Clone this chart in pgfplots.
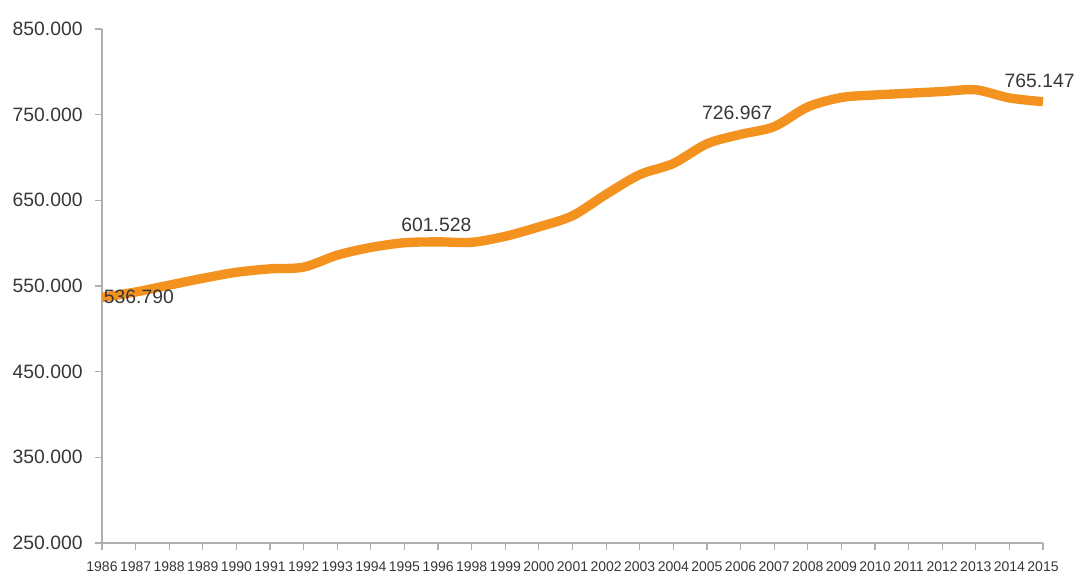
\documentclass[border=0pt]{standalone}
\usepackage{pgfplots}
\pgfplotsset{compat=1.18}
\usepackage{fontspec}
\setmainfont{Liberation Sans}
\definecolor{lineor}{RGB}{243,146,30}
\definecolor{axgray}{RGB}{175,175,175}
\definecolor{txt}{RGB}{55,55,55}
\pgfplotstableread{
x y
0 536.790
1 543
2 551
3 559
4 566
5 570
6 572
7 586
8 595
9 600.5
10 601.528
11 601
12 608
13 619
14 632
15 657
16 680
17 693
18 716
19 726.967
20 736
21 759
22 770
23 773
24 775
25 777
26 779
27 769.5
28 765.147
}\datatable
\begin{document}
\begin{tikzpicture}
\begin{axis}[name=ax, scale only axis, width=705.75pt, height=385.5pt,
 xmin=0, xmax=28, ymin=250, ymax=850,
 axis lines=left, axis line style={axgray, line width=0.9pt, -},
 xtick={0,...,28},
 xticklabels={1986,1987,1988,1989,1990,1991,1992,1993,1994,1995,1996,1998,1999,2000,2001,2002,2003,2004,2005,2006,2007,2008,2009,2010,2011,2012,2013,2014,2015},
 ytick={250,350,...,850},
 yticklabels={250.000,350.000,450.000,550.000,650.000,750.000,850.000},
 tick style={axgray, line width=0.9pt}, major tick length=5pt, tick align=outside,
 yticklabel style={font=\fontsize{14.5}{15}\selectfont, text=txt, xshift=-6pt},
 xticklabel style={font=\fontsize{10.5}{11}\selectfont, text=txt, yshift=-9pt, inner sep=0pt},
 clip=false]
\addplot[lineor, line width=7pt, smooth, tension=0.5] table[x=x,y=y] {\datatable};
\node[anchor=west, text=txt, font=\fontsize{14.5}{15}\selectfont, inner sep=0pt] at (axis cs:0.05,536.79) {536.790};
\node[text=txt, font=\fontsize{14.5}{15}\selectfont] at (axis cs:9.95,621) {601.528};
\node[text=txt, font=\fontsize{14.5}{15}\selectfont] at (axis cs:18.9,752) {726.967};
\node[text=txt, font=\fontsize{14.5}{15}\selectfont] at (axis cs:27.9,789) {765.147};
\end{axis}
\pgfresetboundingbox
\path ([xshift=-76.5pt,yshift=-24.75pt]ax.south west) rectangle ([xshift=27.75pt,yshift=21.75pt]ax.north east);
\end{tikzpicture}
\end{document}
